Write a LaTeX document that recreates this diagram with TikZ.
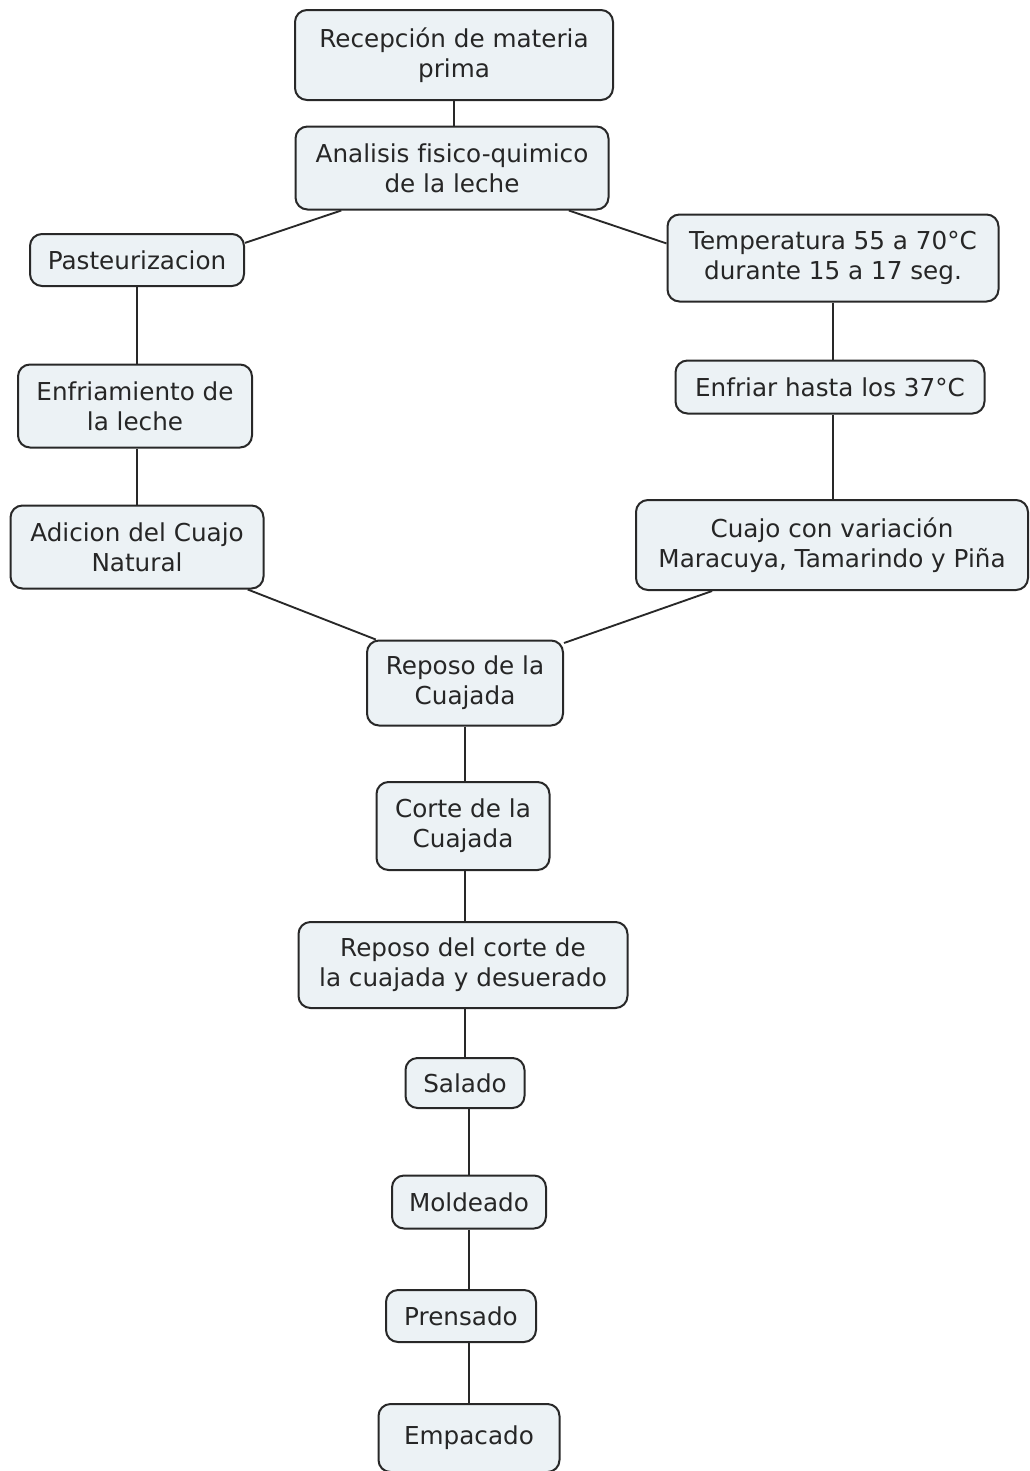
\documentclass[tikz,border=0pt]{standalone}
\usepackage{fontspec}
\setmainfont[Ligatures=NoCommon]{DejaVu Sans}
\usetikzlibrary{positioning}
\definecolor{boxfill}{RGB}{236,242,245}
\definecolor{boxline}{RGB}{40,40,40}
\tikzset{
  paso/.style={draw=boxline, line width=1.5pt, fill=boxfill, rounded corners=9pt,
    align=center, inner xsep=12pt, inner ysep=9pt, text=black!85,
    font=\fontsize{18.5}{22.5}\selectfont},
  liga/.style={draw=boxline, line width=1.4pt}
}
\begin{document}
\begin{tikzpicture}[x=0.75pt,y=-0.75pt]
     \useasboundingbox (0,0) rectangle (1029,1471);
     \node[paso, minimum width=238.5pt, minimum height=67.5pt] (rec) at (454,55) {Recepción de materia\\prima};
     \node[paso, minimum width=234.75pt, minimum height=62.25pt] (ana) at (452,168) {Analisis fisico-quimico\\de la leche};
     \node[paso, minimum width=160.5pt, minimum height=39pt] (pas) at (137,260) {Pasteurizacion};
     \node[paso, minimum width=248.25pt, minimum height=65.25pt] (temp) at (833,258) {Temperatura 55 a 70°C\\durante 15 a 17 seg.};
     \node[paso, minimum width=175.5pt, minimum height=62.25pt] (enf) at (135,406) {Enfriamiento de\\la leche};
     \node[paso, minimum width=231.75pt, minimum height=39.75pt] (enfr) at (830,387) {Enfriar hasta los 37°C};
     \node[paso, minimum width=189.75pt, minimum height=62.25pt] (adi) at (137,547) {Adicion del Cuajo\\Natural};
     \node[paso, minimum width=294pt, minimum height=67.5pt] (cuajo) at (832,545) {Cuajo con variación\\Maracuya, Tamarindo y Piña};
     \node[paso, minimum width=147pt, minimum height=63.75pt] (rep) at (465,683) {Reposo de la\\Cuajada};
     \node[paso, minimum width=129.75pt, minimum height=66pt] (corte) at (463,826) {Corte de la\\Cuajada};
     \node[paso, minimum width=246.75pt, minimum height=64.5pt] (repc) at (463,965) {Reposo del corte de\\la cuajada y desuerado};
     \node[paso, minimum width=89.25pt, minimum height=37.5pt] (sal) at (465,1083) {Salado};
     \node[paso, minimum width=115.5pt, minimum height=39.75pt] (mol) at (469,1202) {Moldeado};
     \node[paso, minimum width=112.5pt, minimum height=39pt] (pren) at (461,1316) {Prensado};
     \node[paso, minimum width=135.75pt, minimum height=51pt] (emp) at (469,1438) {Empacado};
     \path[liga]
     (rec.south) edge (rec.south |- ana.north)
     (ana.-159) edge (pas.9)
     (ana.-20) edge (temp.175)
     (pas.south) edge (pas.south |- enf.north)
     (pas.south |- enf.south) edge (pas.south |- adi.north)
     (temp.south) edge (temp.south |- enfr.north)
     (temp.south |- enfr.south) edge (temp.south |- cuajo.north)
     (adi.-21) edge (rep.154)
     (cuajo.-159) edge (rep.22)
     (rep.south) edge (rep.south |- corte.north)
     (rep.south |- corte.south) edge (rep.south |- repc.north)
     (rep.south |- repc.south) edge (rep.south |- sal.north)
     (mol.north |- sal.south) edge (mol.north)
     (mol.south) edge (mol.south |- pren.north)
     (mol.south |- pren.south) edge (emp.north);
\end{tikzpicture}
\end{document}
